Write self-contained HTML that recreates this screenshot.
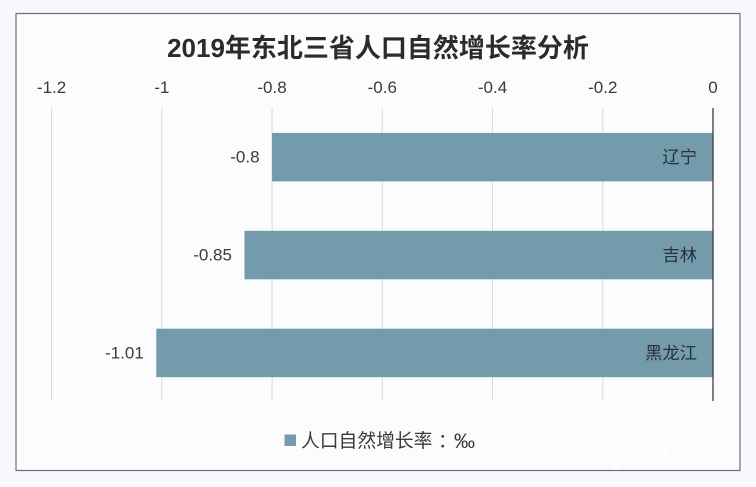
<!DOCTYPE html>
<html lang="zh">
<head>
<meta charset="utf-8">
<style>
html,body{margin:0;padding:0;background:#f9f8fc;}
svg{display:block;}
text{font-family:"Liberation Sans","Noto Sans CJK SC",sans-serif;fill:#3a3a3c;}
</style>
</head>
<body>
<svg id="chart" width="756" height="487" viewBox="0 0 756 487" xmlns="http://www.w3.org/2000/svg">
  <rect x="0" y="0" width="756" height="487" fill="#f9f8fc"/>
  <rect x="16" y="13.5" width="724" height="457" fill="#fcfbfe" stroke="#6f6f73" stroke-width="1.2"/>
  <text x="378" y="57" text-anchor="middle" font-size="26" font-weight="700" style="fill:#2b2b2d">2019年东北三省人口自然增长率分析</text>
  <g id="grid"></g>
  <g id="ticks"></g>
  <g id="bars"></g>
  <line x1="713" y1="108" x2="713" y2="401" stroke="#3c3c40" stroke-width="1.3"/>
  <g>
    <rect x="284.5" y="434.5" width="11.5" height="11.5" fill="#739bac"/>
    <text x="301" y="447" font-size="18.8">人口自然增长率<tspan x="438">：</tspan><tspan x="454" y="448" font-size="21">‰</tspan></text>
  </g>
  <g opacity="0.9">
    <polyline points="646,431 656,439 671,426" fill="none" stroke="#ffffff" stroke-width="4"/>
    <text x="617" y="463" font-size="33" font-weight="700" font-style="italic" style="fill:#ffffff">jiwu</text>
    <text x="688" y="462" font-size="25" style="fill:#ffffff">吉屋</text>
  </g>
</svg>
<script>
const categories = ['辽宁', '吉林', '黑龙江'];
const growthRates = [-0.8, -0.85, -1.01];
const valueLabels = ['-0.8', '-0.85', '-1.01'];
const tickValues = [-1.2, -1, -0.8, -0.6, -0.4, -0.2, 0];
const tickLabels = ['-1.2', '-1', '-0.8', '-0.6', '-0.4', '-0.2', '0'];

const NS = 'http://www.w3.org/2000/svg';
const plot = { x0: 713, pxPerUnit: 551.2, top: 108, bottom: 400, bandStart: 108.2, bandHeight: 97.9, barHeight: 48.5 };
function xScale(v) { return plot.x0 + v * plot.pxPerUnit; }
function bandCenter(i) { return plot.bandStart + plot.bandHeight * (i + 0.5); }
function make(tag, attrs, parent, text) {
  const el = document.createElementNS(NS, tag);
  for (const k in attrs) el.setAttribute(k, attrs[k]);
  if (text !== undefined) el.textContent = text;
  parent.appendChild(el);
  return el;
}
const gridG = document.getElementById('grid');
const ticksG = document.getElementById('ticks');
const barsG = document.getElementById('bars');

tickValues.forEach(function (v, i) {
  if (v !== 0) {
    const line = make('line', { x1: xScale(v), x2: xScale(v), y1: plot.top, y2: plot.bottom, stroke: '#d9d9dc', 'stroke-width': 1 }, gridG);
    
    
  }
  const label = make('text', { x: xScale(v), y: 93, 'text-anchor': 'middle', 'font-size': 17 }, ticksG, tickLabels[i]);
  
  
});

growthRates.forEach(function (v, i) {
  const c = bandCenter(i);
  const x = xScale(v);
  const bar = make('rect', { x: x, y: c - plot.barHeight / 2, width: plot.x0 - x, height: plot.barHeight, fill: '#739bac' }, barsG);
  
  
  const val = make('text', { x: x - 12.5, y: c + 5.5, 'text-anchor': 'end', 'font-size': 17 }, barsG, valueLabels[i]);
  
  
  const cat = make('text', { x: plot.x0 - 16, y: c + 6, 'text-anchor': 'end', 'font-size': 17.3 }, barsG, categories[i]);
  cat.style.fill = '#26323a';
  
  
});
</script>
</body>
</html>
